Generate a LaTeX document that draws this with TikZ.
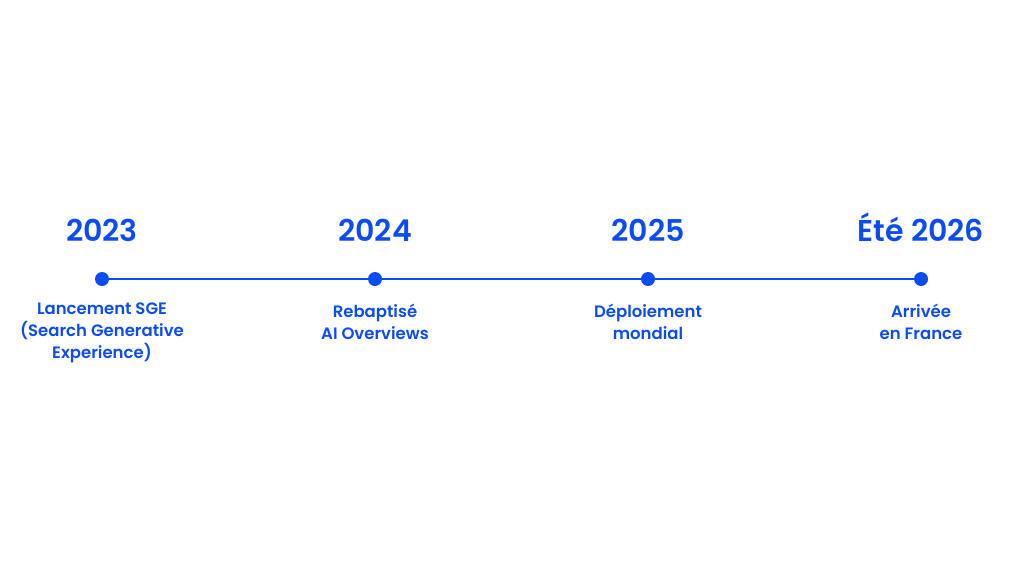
\documentclass[tikz,border=0pt]{standalone}
\usepackage{fontspec}
\setmainfont{Poppins}
\newfontfamily\semib{Poppins SemiBold}
\definecolor{tlblue}{RGB}{12,76,245}
\begin{document}
\begin{tikzpicture}[x=1pt,y=-1pt,
  year/.style={text=tlblue,font=\fontsize{30}{36}\selectfont\semib,anchor=base,inner sep=0pt},
  lbl/.style={text=tlblue,font=\fontsize{16.5}{22}\selectfont\semib,align=center,anchor=north,inner sep=0pt},
  dotn/.style={circle,fill=tlblue,minimum size=14pt,inner sep=0pt},
  tl/.style={draw=tlblue,line width=2pt}]
\useasboundingbox (0,0) rectangle (1024,576);
\node[dotn] (d1) at (102,279) {};
\node[dotn] (d2) at (375,279) {};
\node[dotn] (d3) at (648,279) {};
\node[dotn] (d4) at (921,279) {};
\draw[tl] (d1) -- (d2);
\draw[tl] (d2) -- (d3);
\draw[tl] (d3) -- (d4);
\node[year] (y1) at (102,241) {2023};
\node[year] (y2) at (375,241) {2024};
\node[year] (y3) at (648,241) {2025};
\node[year] (y4) at (921,241) {Été 2026};
\node[lbl] (l1) at (102,303) {Lancement SGE\\(Search Generative\\Experience)};
\node[lbl] (l2) at (375,304) {Rebaptisé\\AI Overviews};
\node[lbl] (l3) at (648,304) {Déploiement\\mondial};
\node[lbl] (l4) at (921,304) {Arrivée\\en France};
\end{tikzpicture}
\end{document}
